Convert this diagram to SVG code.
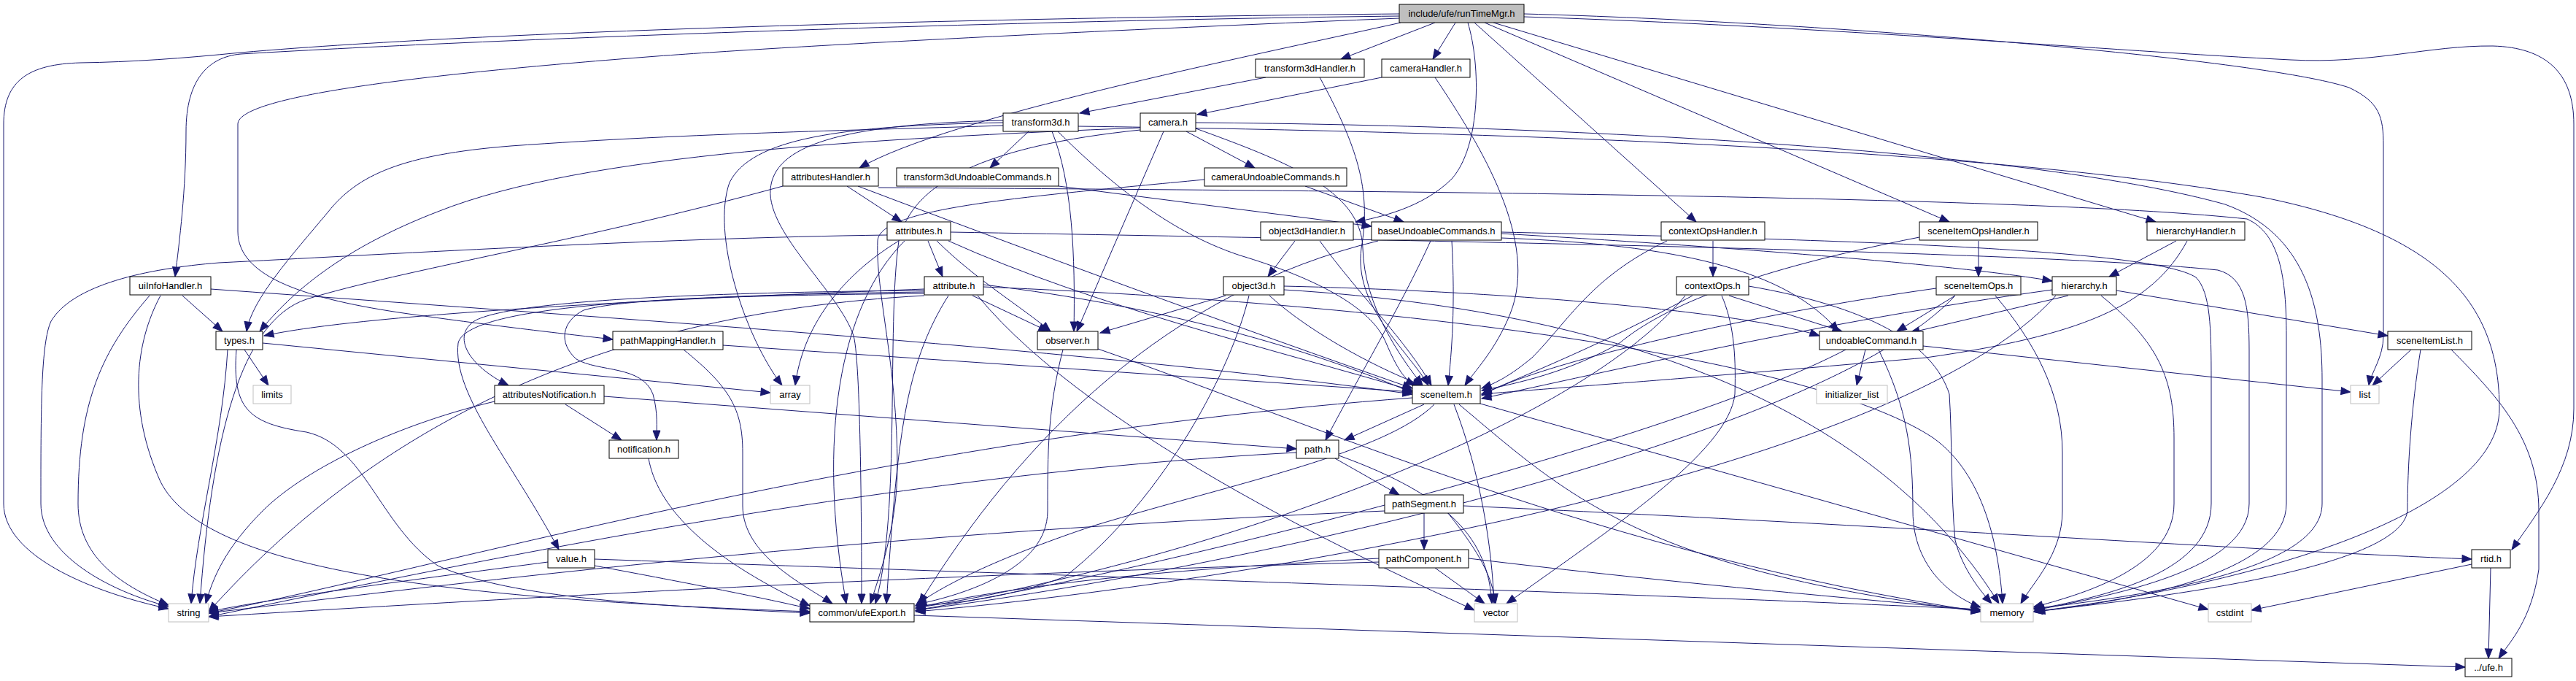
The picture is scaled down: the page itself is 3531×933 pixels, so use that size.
<svg xmlns="http://www.w3.org/2000/svg" width="3531" height="933" viewBox="0 0 3531 933">
<style>
.e{fill:none;stroke:#191970;stroke-width:1;marker-end:url(#ah)}
.n rect{fill:#fff;stroke:#000;stroke-width:1}
.s rect{fill:#fff;stroke:#bfbfbf;stroke-width:1}
.r rect{fill:#bfbfbf;stroke:#000;stroke-width:1}
text{font-family:"Liberation Sans",Arial,sans-serif;font-size:13px;text-anchor:middle;fill:#000}
</style>
<defs>
<marker id="ah" markerUnits="userSpaceOnUse" markerWidth="14" markerHeight="10" refX="13" refY="5" orient="auto" style="overflow:visible">
<path d="M0,0 L13,5 L0,10 z" fill="#191970" stroke="#191970" stroke-width="1"/>
</marker>
</defs>
<rect width="3531" height="933" fill="#fff"/>
<g id="edges">
<path class="e" d="M1918,19 C1400,24 700,40 330,72 C250,80 180,85 110,86 C40,88 5,110 5,170 L5,690 C5,760 120,810 231,834"/>
<path class="e" d="M1918,22 C1400,28 700,52 330,74 C285,78 255,110 255,180 C255,260 246,330 240,379"/>
<path class="e" d="M1918,25 C1500,42 1100,62 900,77 C600,100 326,130 326,170 L326,317 C326,380 420,410 560,430 C680,447 780,458 840,465"/>
<path class="e" d="M1920,31 C1700,80 1300,160 1178,230"/>
<path class="e" d="M1967,31 L1838,81"/>
<path class="e" d="M1995,31 L1964,81"/>
<path class="e" d="M2012,31 C2030,90 2030,200 1990,245 C1950,285 1890,298 1858,304"/>
<path class="e" d="M2021,31 L2325,304"/>
<path class="e" d="M2035,31 L2672,304"/>
<path class="e" d="M2047,31 L2955,304"/>
<path class="e" d="M2089,19 C2500,30 3100,80 3220,120 C3262,140 3267,160 3267,200 L3267,460 C3267,490 3250,510 3247,528"/>
<path class="e" d="M2089,23 C2500,36 2900,70 3140,82 C3250,88 3330,62 3417,63 C3490,65 3528,100 3528,170 L3528,560 C3528,640 3480,700 3443,753"/>
<path class="e" d="M1735,106 L1480,155"/>
<path class="e" d="M1809,106 C1860,200 1880,260 1866,340 C1855,420 1930,480 1958,528"/>
<path class="e" d="M1894,106 L1641,157"/>
<path class="e" d="M1967,106 C2030,200 2110,330 2070,430 C2050,480 2020,510 2008,528"/>
<path class="e" d="M1410,180 L1357,230"/>
<path class="e" d="M1442,180 C1470,250 1474,350 1472,454"/>
<path class="e" d="M1450,180 C1560,290 1640,330 1700,350 C1800,380 1880,420 1900,470 C1915,505 1925,520 1940,528"/>
<path class="e" d="M1375,172 C1200,178 950,182 700,200 C550,212 490,240 450,290 C400,350 345,410 338,454"/>
<path class="e" d="M1375,165 C1150,170 1060,200 1056,260 C1052,320 1150,400 1170,460 C1181,500 1181,780 1181,827"/>
<path class="e" d="M1375,168 C1150,172 1030,190 1000,250 C975,320 1020,460 1072,528"/>
<path class="e" d="M1478,173 C2000,180 2700,200 3100,270 C3350,320 3426,420 3426,560 C3426,700 3100,800 2787,838"/>
<path class="e" d="M1626,180 L1720,230"/>
<path class="e" d="M1595,180 L1476,454"/>
<path class="e" d="M1639,176 C1760,220 1866,260 1868,340 C1870,420 1920,490 1950,528"/>
<path class="e" d="M1563,175 C1200,190 800,210 600,290 C470,340 400,400 356,454"/>
<path class="e" d="M1563,178 C1350,200 1250,250 1232,330 C1215,450 1235,700 1200,827"/>
<path class="e" d="M1639,168 C2200,172 2800,210 3050,280 C3160,320 3183,420 3183,520 L3183,690 C3183,780 2950,815 2787,834"/>
<path class="e" d="M1451,255 L1880,310"/>
<path class="e" d="M1267,396 C900,410 500,430 362,460"/>
<path class="e" d="M1789,255 L1924,304"/>
<path class="e" d="M1651,246 C1400,270 1205,285 1203,330 C1200,400 1230,500 1230,640 C1230,720 1205,790 1193,827"/>
<path class="e" d="M1161,255 L1236,304"/>
<path class="e" d="M1176,255 C1400,340 1700,450 1936,532"/>
<path class="e" d="M1073,255 C800,330 550,370 420,410 C330,440 290,600 274,827"/>
<path class="e" d="M1204,257 C2000,262 2800,270 3080,300 C3125,320 3134,380 3134,460 L3134,690 C3134,780 2950,820 2790,838"/>
<path class="e" d="M1272,330 L1292,379"/>
<path class="e" d="M1284,330 C1340,385 1400,420 1440,454"/>
<path class="e" d="M1300,330 C1500,420 1750,480 1936,535"/>
<path class="e" d="M1216,322 C900,326 500,350 300,360 C200,368 100,390 70,440 C56,470 56,560 56,690 C56,760 150,810 231,831"/>
<path class="e" d="M1240,330 C1150,420 1120,600 1160,827"/>
<path class="e" d="M1303,318 C2000,330 2800,345 3040,370 C3078,380 3083,420 3083,480 L3083,690 C3083,780 2900,815 2789,836"/>
<path class="e" d="M1232,330 C1150,380 1100,450 1090,528"/>
<path class="e" d="M1267,398 C1000,400 700,410 650,440 C620,460 640,500 697,528"/>
<path class="e" d="M1267,402 C1000,405 850,410 800,425 C770,440 765,470 790,492 C820,510 880,500 895,540 C902,565 900,585 900,603"/>
<path class="e" d="M1267,400 C900,405 640,420 628,470 C620,540 700,630 766,753"/>
<path class="e" d="M1333,405 L1437,454"/>
<path class="e" d="M1348,390 C1600,420 1800,480 1936,538"/>
<path class="e" d="M1267,405 C800,430 500,600 286,838"/>
<path class="e" d="M1300,405 C1240,500 1230,600 1215,827"/>
<path class="e" d="M1348,393 C2000,420 2500,500 2650,600 C2720,650 2740,750 2745,827"/>
<path class="e" d="M1340,405 C1500,600 1900,780 2021,836"/>
<path class="e" d="M1775,330 L1738,379"/>
<path class="e" d="M1809,330 C1860,400 1930,470 1962,528"/>
<path class="e" d="M2058,326 C2300,335 2450,370 2520,454"/>
<path class="e" d="M1889,330 C1600,400 1400,600 1260,827"/>
<path class="e" d="M1961,330 C1920,420 1860,520 1817,603"/>
<path class="e" d="M1990,330 C1995,420 1990,480 1985,528"/>
<path class="e" d="M2058,320 C2400,340 2700,365 2813,385"/>
<path class="e" d="M2058,318 C2500,328 2950,340 3010,380 C3030,400 3031,450 3031,520 L3031,690 C3031,780 2900,815 2789,835"/>
<path class="e" d="M2348,330 L2348,379"/>
<path class="e" d="M2285,330 C2180,380 2150,440 2100,490 C2070,515 2050,525 2031,532"/>
<path class="e" d="M2712,330 L2712,379"/>
<path class="e" d="M2631,325 C2400,370 2280,420 2220,470 C2150,510 2080,525 2031,535"/>
<path class="e" d="M2983,330 L2891,379"/>
<path class="e" d="M2998,330 C2950,420 2850,460 2640,490 C2300,520 2150,530 2031,540"/>
<path class="e" d="M250,405 L305,454"/>
<path class="e" d="M205,405 C140,480 107,550 107,690 C107,760 160,800 231,829"/>
<path class="e" d="M220,405 C185,470 175,560 220,660 C280,780 600,820 1110,838"/>
<path class="e" d="M289,396 C900,440 1500,480 1936,540"/>
<path class="e" d="M335,479 L368,528"/>
<path class="e" d="M360,470 L1056,538"/>
<path class="e" d="M324,479 C318,560 340,580 420,592 C500,610 520,720 600,775 C700,820 900,830 1110,840"/>
<path class="e" d="M312,479 C305,600 270,720 262,827"/>
<path class="e" d="M991,473 L1936,537"/>
<path class="e" d="M937,479 C1000,530 1018,560 1018,620 L1018,693 C1018,760 1100,800 1141,827"/>
<path class="e" d="M1457,479 C1436,560 1436,620 1436,700 C1436,780 1320,815 1257,828"/>
<path class="e" d="M1505,478 C1800,580 2200,760 2715,838"/>
<path class="e" d="M775,554 L852,603"/>
<path class="e" d="M828,543 L1777,615"/>
<path class="e" d="M678,550 C550,580 420,640 360,700 C310,750 292,790 282,827"/>
<path class="e" d="M889,628 C900,690 960,760 1110,830"/>
<path class="e" d="M751,770 C600,790 400,815 286,838"/>
<path class="e" d="M815,766 C1500,790 2300,815 2715,835"/>
<path class="e" d="M815,775 C950,800 1050,820 1110,834"/>
<path class="e" d="M1830,628 L1918,678"/>
<path class="e" d="M1835,624 C1990,680 2040,740 2045,827"/>
<path class="e" d="M1777,620 C1200,650 600,780 286,845"/>
<path class="e" d="M1952,703 L1952,753"/>
<path class="e" d="M1985,703 C2030,760 2045,790 2050,827"/>
<path class="e" d="M2006,693 C2600,720 3100,755 3388,766"/>
<path class="e" d="M1898,700 C1200,730 700,790 286,840"/>
<path class="e" d="M1967,778 L2035,827"/>
<path class="e" d="M1890,765 C1600,780 1400,800 1255,833"/>
<path class="e" d="M1890,770 C1200,790 700,820 286,845"/>
<path class="e" d="M2013,765 C2300,800 2600,825 2715,836"/>
<path class="e" d="M1952,554 L1843,603"/>
<path class="e" d="M1993,554 C2030,650 2045,750 2048,827"/>
<path class="e" d="M1966,554 C1900,620 1700,660 1500,720 C1350,770 1280,810 1255,830"/>
<path class="e" d="M2000,554 C2150,680 2250,780 2715,838"/>
<path class="e" d="M2029,553 L3027,835"/>
<path class="e" d="M1936,545 C1200,600 600,780 286,840"/>
<path class="e" d="M2557,479 L2545,528"/>
<path class="e" d="M2575,479 C2615,560 2622,620 2622,700 C2622,780 2680,820 2715,832"/>
<path class="e" d="M2530,479 C2300,600 1600,780 1255,836"/>
<path class="e" d="M2636,474 L3222,537"/>
<path class="e" d="M2370,405 L2525,454"/>
<path class="e" d="M2320,405 C2200,470 2100,510 2031,540"/>
<path class="e" d="M2360,405 C2375,440 2380,480 2378,540 C2370,620 2200,730 2065,827"/>
<path class="e" d="M2310,405 C2150,600 1600,780 1255,833"/>
<path class="e" d="M2397,392 C2560,420 2650,470 2672,540 C2676,600 2674,680 2680,740 C2690,780 2715,810 2730,827"/>
<path class="e" d="M2680,405 L2600,454"/>
<path class="e" d="M2654,395 C2400,430 2100,500 2031,542"/>
<path class="e" d="M2735,405 C2790,470 2827,540 2827,620 L2827,700 C2827,760 2785,800 2770,827"/>
<path class="e" d="M2680,405 C2500,600 1700,780 1255,836"/>
<path class="e" d="M2901,398 L3273,460"/>
<path class="e" d="M2813,397 C2500,440 2200,510 2031,546"/>
<path class="e" d="M2835,405 L2618,456"/>
<path class="e" d="M2880,405 C2960,470 2980,520 2980,600 L2980,690 C2980,780 2850,815 2787,832"/>
<path class="e" d="M2818,405 C2600,650 1700,800 1255,838"/>
<path class="e" d="M3305,479 L3252,528"/>
<path class="e" d="M3318,479 C3305,560 3300,640 3300,700 C3290,780 2950,820 2787,838"/>
<path class="e" d="M3360,479 C3420,540 3480,600 3480,700 L3480,780 C3470,850 3440,880 3425,902"/>
<path class="e" d="M3388,773 L3086,836"/>
<path class="e" d="M3414,778 L3411,902"/>
<path class="e" d="M1253,843 L3379,914"/>
<path class="e" d="M1680,405 L1508,456"/>
<path class="e" d="M1740,405 C1800,460 1900,510 1950,528"/>
<path class="e" d="M1712,405 C1690,500 1600,680 1460,790 C1380,820 1300,828 1255,830"/>
<path class="e" d="M1760,392 C2100,400 2400,430 2494,460"/>
<path class="e" d="M1760,397 C2300,430 2600,600 2740,827"/>
</g>
<g id="node-runTimeMgr" class="r"><rect x="1918" y="6" width="171" height="25"/><text x="2003.5" y="23">include/ufe/runTimeMgr.h</text></g>
<g id="node-transform3dHandler" class="n"><rect x="1721" y="81" width="149" height="25"/><text x="1795.5" y="98">transform3dHandler.h</text></g>
<g id="node-cameraHandler" class="n"><rect x="1894" y="81" width="121" height="25"/><text x="1954.5" y="98">cameraHandler.h</text></g>
<g id="node-transform3d" class="n"><rect x="1375" y="155" width="103" height="25"/><text x="1426.5" y="172">transform3d.h</text></g>
<g id="node-camera" class="n"><rect x="1563" y="155" width="76" height="25"/><text x="1601" y="172">camera.h</text></g>
<g id="node-attributesHandler" class="n"><rect x="1073" y="230" width="131" height="25"/><text x="1138.5" y="247">attributesHandler.h</text></g>
<g id="node-transform3dUndoableCommands" class="n"><rect x="1229" y="230" width="222" height="25"/><text x="1340" y="247">transform3dUndoableCommands.h</text></g>
<g id="node-cameraUndoableCommands" class="n"><rect x="1651" y="230" width="195" height="25"/><text x="1748.5" y="247">cameraUndoableCommands.h</text></g>
<g id="node-attributes" class="n"><rect x="1216" y="304" width="87" height="25"/><text x="1259.5" y="321">attributes.h</text></g>
<g id="node-object3dHandler" class="n"><rect x="1728" y="304" width="127" height="25"/><text x="1791.5" y="321">object3dHandler.h</text></g>
<g id="node-baseUndoableCommands" class="n"><rect x="1880" y="304" width="178" height="25"/><text x="1969" y="321">baseUndoableCommands.h</text></g>
<g id="node-contextOpsHandler" class="n"><rect x="2277" y="304" width="142" height="25"/><text x="2348" y="321">contextOpsHandler.h</text></g>
<g id="node-sceneItemOpsHandler" class="n"><rect x="2631" y="304" width="162" height="25"/><text x="2712" y="321">sceneItemOpsHandler.h</text></g>
<g id="node-hierarchyHandler" class="n"><rect x="2943" y="304" width="134" height="25"/><text x="3010" y="321">hierarchyHandler.h</text></g>
<g id="node-uiInfoHandler" class="n"><rect x="178" y="379" width="111" height="25"/><text x="233.5" y="396">uiInfoHandler.h</text></g>
<g id="node-attribute" class="n"><rect x="1267" y="379" width="81" height="25"/><text x="1307.5" y="396">attribute.h</text></g>
<g id="node-object3d" class="n"><rect x="1677" y="379" width="83" height="25"/><text x="1718.5" y="396">object3d.h</text></g>
<g id="node-contextOps" class="n"><rect x="2298" y="379" width="99" height="25"/><text x="2347.5" y="396">contextOps.h</text></g>
<g id="node-sceneItemOps" class="n"><rect x="2654" y="379" width="116" height="25"/><text x="2712" y="396">sceneItemOps.h</text></g>
<g id="node-hierarchy" class="n"><rect x="2813" y="379" width="88" height="25"/><text x="2857" y="396">hierarchy.h</text></g>
<g id="node-types" class="n"><rect x="296" y="454" width="64" height="25"/><text x="328" y="471">types.h</text></g>
<g id="node-pathMappingHandler" class="n"><rect x="840" y="454" width="151" height="25"/><text x="915.5" y="471">pathMappingHandler.h</text></g>
<g id="node-observer" class="n"><rect x="1422" y="454" width="83" height="25"/><text x="1463.5" y="471">observer.h</text></g>
<g id="node-undoableCommand" class="n"><rect x="2494" y="454" width="142" height="25"/><text x="2565" y="471">undoableCommand.h</text></g>
<g id="node-sceneItemList" class="n"><rect x="3273" y="454" width="115" height="25"/><text x="3330.5" y="471">sceneItemList.h</text></g>
<g id="node-limits" class="s"><rect x="347" y="528" width="52" height="25"/><text x="373" y="545">limits</text></g>
<g id="node-attributesNotification" class="n"><rect x="678" y="528" width="150" height="25"/><text x="753" y="545">attributesNotification.h</text></g>
<g id="node-array" class="s"><rect x="1056" y="528" width="54" height="25"/><text x="1083" y="545">array</text></g>
<g id="node-sceneItem" class="n"><rect x="1936" y="528" width="93" height="25"/><text x="1982.5" y="545">sceneItem.h</text></g>
<g id="node-initializer_list" class="s"><rect x="2490" y="528" width="97" height="25"/><text x="2538.5" y="545">initializer_list</text></g>
<g id="node-list" class="s"><rect x="3222" y="528" width="39" height="25"/><text x="3241.5" y="545">list</text></g>
<g id="node-notification" class="n"><rect x="835" y="603" width="95" height="25"/><text x="882.5" y="620">notification.h</text></g>
<g id="node-path" class="n"><rect x="1777" y="603" width="58" height="25"/><text x="1806" y="620">path.h</text></g>
<g id="node-pathSegment" class="n"><rect x="1898" y="678" width="108" height="25"/><text x="1952" y="695">pathSegment.h</text></g>
<g id="node-value" class="n"><rect x="751" y="753" width="64" height="25"/><text x="783" y="770">value.h</text></g>
<g id="node-pathComponent" class="n"><rect x="1890" y="753" width="123" height="25"/><text x="1951.5" y="770">pathComponent.h</text></g>
<g id="node-rtid" class="n"><rect x="3388" y="753" width="53" height="25"/><text x="3414.5" y="770">rtid.h</text></g>
<g id="node-string" class="s"><rect x="231" y="827" width="55" height="25"/><text x="258.5" y="844">string</text></g>
<g id="node-ufeExport" class="n"><rect x="1110" y="827" width="143" height="25"/><text x="1181.5" y="844">common/ufeExport.h</text></g>
<g id="node-vector" class="s"><rect x="2021" y="827" width="59" height="25"/><text x="2050.5" y="844">vector</text></g>
<g id="node-memory" class="s"><rect x="2715" y="827" width="72" height="25"/><text x="2751" y="844">memory</text></g>
<g id="node-cstdint" class="s"><rect x="3027" y="827" width="59" height="25"/><text x="3056.5" y="844">cstdint</text></g>
<g id="node-ufe" class="n"><rect x="3379" y="902" width="64" height="25"/><text x="3411" y="919">../ufe.h</text></g>
</svg>
